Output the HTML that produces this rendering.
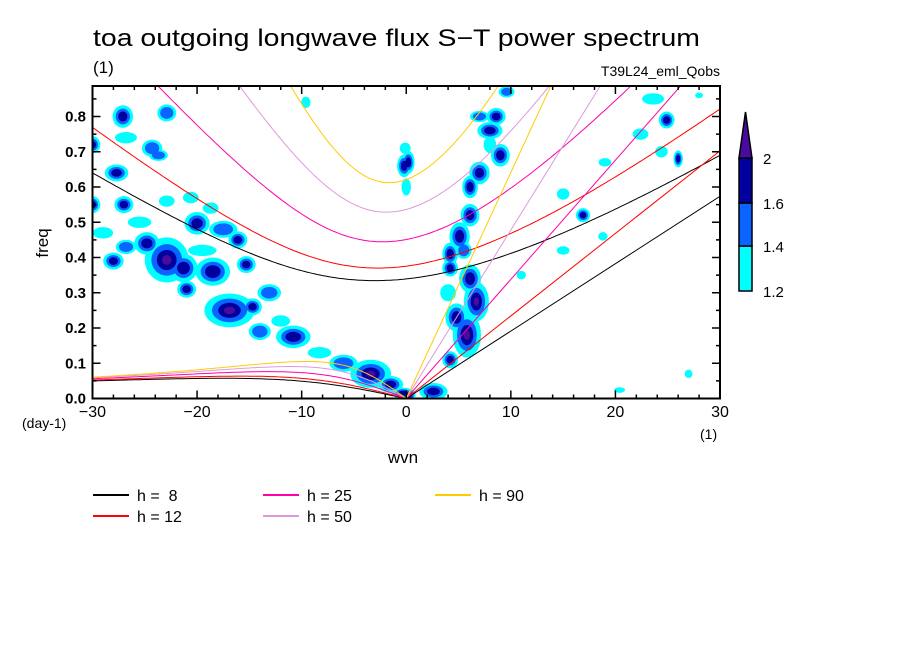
<!DOCTYPE html>
<html><head><meta charset="utf-8"><style>
body{margin:0;background:#fff;}
svg{display:block;font-family:"Liberation Sans",sans-serif;}
text{white-space:pre;}
</style></head><body>
<svg id="c" width="904" height="654" viewBox="0 0 904 654">
<defs><clipPath id="clip"><rect x="92.5" y="86" width="627.5" height="312.5"/></clipPath></defs>
<rect width="904" height="654" fill="#fff"/>
<text x="93" y="46" font-size="24" textLength="607" lengthAdjust="spacingAndGlyphs">toa outgoing longwave flux S−T power spectrum</text>
<text x="93" y="73" font-size="17">(1)</text>
<text x="720" y="76" font-size="14" text-anchor="end">T39L24_eml_Qobs</text>
<g id="blobs" clip-path="url(#clip)"></g>
<g id="curves" clip-path="url(#clip)"></g>
<g id="axes"></g>
<text transform="translate(48,243) rotate(-90)" font-size="17" text-anchor="middle">freq</text>
<text x="403" y="463" font-size="17" text-anchor="middle">wvn</text>
<text x="22" y="428" font-size="14">(day-1)</text>
<text x="700" y="439" font-size="14">(1)</text>
<g id="cbar"></g>
<g id="legend"></g>
</svg>
<script>
const hValues=[8,12,25,50,90];
const hColors=['#000000','#ff0000','#ff00aa','#dd99dd','#ffcc00'];
const xTicks=[-30,-20,-10,0,10,20,30];
const yTicks=[0,0.1,0.2,0.3,0.4,0.5,0.6,0.7,0.8];
const levels=[1.2,1.4,1.6,2];
const levelColors=['#00ffff','#0a64ff','#00009e','#4a0a9e'];
// blobs: wavenumber, frequency, peak level, half-width (wvn), half-height (freq)
const blobWvn=[-22.9,-24.8,-21.3,-21,-20,-18.5,-16.9,-15.3,-17.5,-10.8,-14,-14.7,-13.1,-3.4,-1.5,-0.3,-8.3,-6,
-27.1,-27.7,-30,-30,-27,-22.9,-26.8,-24.3,-23.7,-26.8,-28,-29,-22.9,-20.6,-18.7,-16.1,-0.2,-0.1,-9.6,0,-25.5,-19.5,-12,
6.7,5.8,4.8,4.2,6.1,4.2,4.2,5.1,6.1,7,6.1,8,8.6,7,9.6,9,8,0.2,2.6,0.3,4,5.5,
24.9,23.6,22.4,26,19,24.4,16.9,15,11,15,18.8,27,20.4,28];
const blobFreq=[0.393,0.44,0.37,0.31,0.497,0.36,0.25,0.38,0.48,0.175,0.19,0.26,0.3,0.07,0.04,0.015,0.13,0.1,
0.8,0.64,0.72,0.55,0.55,0.81,0.74,0.71,0.69,0.43,0.39,0.47,0.56,0.57,0.54,0.45,0.66,0.71,0.84,0.6,0.5,0.42,0.22,
0.275,0.18,0.23,0.11,0.34,0.37,0.41,0.46,0.52,0.64,0.6,0.76,0.8,0.8,0.87,0.69,0.72,0.67,0.02,0.01,0.3,0.42,
0.79,0.85,0.75,0.68,0.67,0.7,0.52,0.42,0.35,0.58,0.46,0.07,0.024,0.86];
const blobLevel=[2.1,1.8,1.8,1.7,1.7,1.8,2.1,1.7,1.5,1.8,1.5,1.7,1.5,2.1,1.8,1.8,1.3,1.5,
1.7,1.7,1.7,1.7,1.7,1.5,1.3,1.5,1.5,1.5,1.7,1.3,1.3,1.3,1.3,1.7,1.7,1.3,1.3,1.3,1.3,1.3,1.3,
2.1,2.1,1.8,1.7,1.8,1.7,1.7,1.7,1.7,1.7,1.7,1.7,1.7,1.5,1.5,1.7,1.3,1.7,1.8,2.1,1.3,1.5,
1.7,1.3,1.3,1.7,1.3,1.3,1.7,1.3,1.3,1.3,1.3,1.3,1.3,1.3];
const blobRx=[2.8,1.6,1.8,1.2,1.6,2.2,3.2,1.2,1.8,2.2,1.4,1.2,1.5,2.6,1.6,1.4,1.5,1.8,
1.3,1.5,1,1,1.2,1.2,1.4,1.3,1.2,1.3,1.3,1.3,1,1,1,1.2,0.9,0.7,0.6,0.6,1.5,1.8,1.2,
1.6,1.8,1.4,1,1.4,1,1,1.3,1.2,1.3,1,1.6,1.2,1.2,1,1.2,0.8,0.8,1.8,0.8,1,1,
1,1.4,1,0.6,0.8,0.8,0.9,0.8,0.6,0.8,0.6,0.5,0.7,0.5];
const blobRy=[0.08,0.04,0.05,0.03,0.04,0.05,0.06,0.03,0.03,0.04,0.03,0.03,0.03,0.05,0.03,0.02,0.02,0.03,
0.04,0.03,0.03,0.03,0.03,0.03,0.02,0.03,0.02,0.025,0.03,0.02,0.02,0.02,0.02,0.03,0.04,0.02,0.02,0.03,0.02,0.02,0.02,
0.07,0.08,0.05,0.03,0.05,0.03,0.04,0.05,0.04,0.04,0.04,0.03,0.03,0.02,0.02,0.04,0.03,0.04,0.03,0.02,0.03,0.03,
0.03,0.02,0.02,0.03,0.015,0.02,0.025,0.015,0.015,0.02,0.015,0.015,0.01,0.01];

const NS='http://www.w3.org/2000/svg';
const X0=92.5,X1=720,Y0=398.5,YT=86,FMAX=(398.5-86)/352.5;
const SX=0.75,SY=0.8;
const xs=w=>X0+(w+30)/60*(X1-X0);
const ys=f=>Y0-f/FMAX*(Y0-YT);
function mk(tag,attrs,parent){const e=document.createElementNS(NS,tag);for(const k in attrs)e.setAttribute(k,attrs[k]);parent.appendChild(e);return e;}

// contours
const bg=document.getElementById('blobs');
const scales=[1,0.7,0.45,0.22];
for(let li=0;li<4;li++){
  for(let i=0;i<blobWvn.length;i++){
    if(blobLevel[i]<levels[li]) continue;
    const s=scales[li];
    const e=mk('ellipse',{cx:xs(blobWvn[i]),cy:ys(blobFreq[i]),rx:SX*blobRx[i]*s*(X1-X0)/60,ry:SY*blobRy[i]*s*(Y0-YT)/FMAX,fill:levelColors[li]},bg);
    
    
  }
}

// dispersion curves (shallow-water equatorial waves)
const g=9.81,beta=2.29e-11,R=6.371e6,cpd=86400/(2*Math.PI);
function fcub(w,k,c){return w*w*w-(c*c*k*k+3*beta*c)*w-beta*k*c*c;}
function igRoot(k,c){let w=2*Math.sqrt(c*c*k*k+3*beta*c);for(let i=0;i<60;i++){const A=c*c*k*k+3*beta*c;const f=fcub(w,k,c),d=3*w*w-A;w-=f/d;}return w;}
function rossbyRoot(k,c){const A=c*c*k*k+3*beta*c;let a=0,b=Math.sqrt(A/3);for(let i=0;i<60;i++){const m=(a+b)/2;if(fcub(m,k,c)>0)a=m;else b=m;}return (a+b)/2;}
const cg=document.getElementById('curves');
hValues.forEach((h,hi)=>{
  const c=Math.sqrt(g*h);
  let ig='',ro='';
  for(let w=-30;w<=30.001;w+=0.25){const k=w/R;const f=igRoot(k,c)*cpd;ig+=(ig?'L':'M')+xs(w).toFixed(1)+','+ys(f).toFixed(1);}
  for(let w=-30;w<=-0.01;w+=0.25){const k=w/R;const f=rossbyRoot(k,c)*cpd;ro+=(ro?'L':'M')+xs(w).toFixed(1)+','+ys(f).toFixed(1);}
  ro+='L'+xs(0)+','+ys(0);
  const kf=c*(30/R)*cpd;
  const p1=mk('path',{d:ig,fill:'none',stroke:hColors[hi],'stroke-width':1},cg);
  
  
  const p2=mk('path',{d:ro,fill:'none',stroke:hColors[hi],'stroke-width':1},cg);
  
  
  const p3=mk('line',{x1:xs(0),y1:ys(0),x2:xs(30),y2:ys(kf),stroke:hColors[hi],'stroke-width':1},cg);
  
  
});

// axes
const ax=document.getElementById('axes');
const fr=mk('rect',{x:X0,y:YT,width:X1-X0,height:Y0-YT,fill:'none',stroke:'#000','stroke-width':2},ax);


for(let w=-30;w<=30;w+=2){
  const L=(w%10===0)?8:4;
  mk('line',{x1:xs(w),y1:Y0,x2:xs(w),y2:Y0-L,stroke:'#000','stroke-width':1.5},ax);
  mk('line',{x1:xs(w),y1:YT,x2:xs(w),y2:YT+L,stroke:'#000','stroke-width':1.5},ax);
}
for(let j=0;j<=17;j++){
  const f=j*0.05,L=(j%2===0)?8:4;
  mk('line',{x1:X0,y1:ys(f),x2:X0+L,y2:ys(f),stroke:'#000','stroke-width':1.5},ax);
  mk('line',{x1:X1,y1:ys(f),x2:X1-L,y2:ys(f),stroke:'#000','stroke-width':1.5},ax);
}
xTicks.forEach(t=>{const e=mk('text',{x:xs(t),y:417,'font-size':16,'text-anchor':'middle'},ax);e.textContent=(t<0?'−':'')+Math.abs(t);
  
  });
yTicks.forEach(t=>{const e=mk('text',{x:86,y:ys(t)+5,'font-size':15,'font-weight':'bold','text-anchor':'end'},ax);e.textContent=t.toFixed(1);
  
  });

// colorbar
const cb=document.getElementById('cbar');
const cbY=[291,246,203,158];
for(let i=0;i<3;i++){
  const r=mk('rect',{x:739,y:cbY[i+1],width:13,height:cbY[i]-cbY[i+1],fill:levelColors[i],stroke:'#000','stroke-width':1.5},cb);
  
  
}
const tri=mk('polygon',{points:'739,158 752,158 745.5,112',fill:levelColors[3],stroke:'#000','stroke-width':1.5},cb);


levels.forEach((l,i)=>{const e=mk('text',{x:763,y:[297,252,209,164][i],'font-size':15},cb);e.textContent=String(l);
  
  });

// legend
const lg=document.getElementById('legend');
const legX=[93,263,435],legY=[495,516];
const legText=['h =  8','h = 12','h = 25','h = 50','h = 90'];
hValues.forEach((h,i)=>{
  const col=Math.floor(i/2),row=i%2;
  const l=mk('line',{x1:legX[col],y1:legY[row],x2:legX[col]+36,y2:legY[row],stroke:hColors[i],'stroke-width':2},lg);
  
  
  const t=mk('text',{x:legX[col]+44,y:legY[row]+6,'font-size':16},lg);
  t.textContent=legText[i];
  
  
});
</script>
</body></html>
